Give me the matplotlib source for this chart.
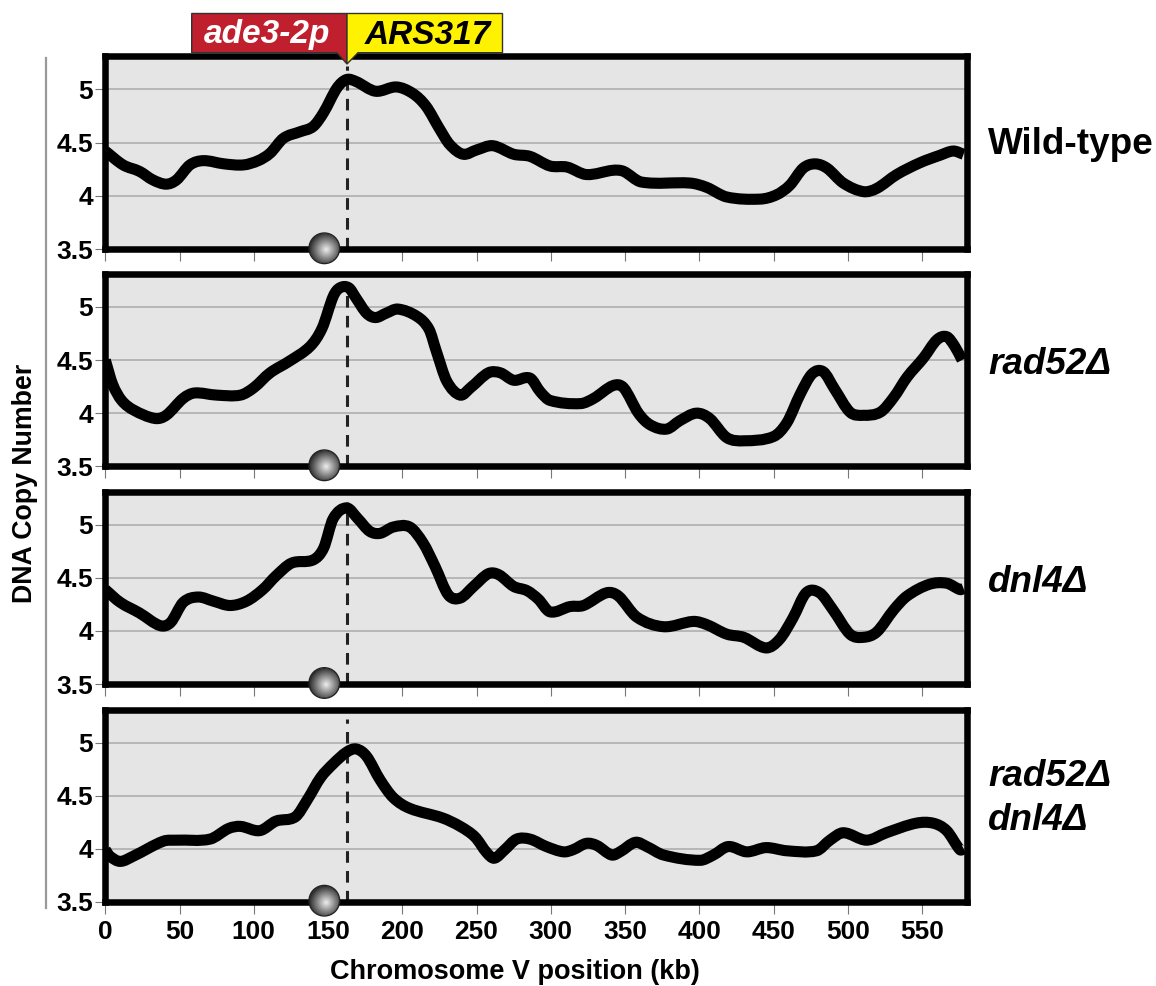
import numpy as np
import matplotlib
matplotlib.use('Agg')
import matplotlib.pyplot as plt
from matplotlib.patches import Polygon, Circle, PathPatch
from matplotlib.path import Path

plt.rcParams['font.family'] = ['Liberation Sans', 'DejaVu Sans']
plt.rcParams['font.weight'] = 'bold'

# values (kb, copy number)
wt_x = [0, 12, 23, 32, 41, 48, 57, 66, 80, 93, 103, 111, 120, 131, 140, 147, 156, 162.5, 169, 182, 196, 207, 216,
        225, 232, 241, 250, 261, 275, 286, 299.5, 311, 324, 342, 349, 361, 394, 405, 418.5, 441, 452, 461, 470,
        478, 486, 497, 510.5, 519.5, 533, 548.6, 562, 571, 578]
wt_y = [4.42, 4.29, 4.23, 4.15, 4.11, 4.15, 4.29, 4.33, 4.30, 4.29, 4.33, 4.40, 4.54, 4.60, 4.65, 4.78, 5.01, 5.09,
        5.07, 4.98, 5.02, 4.96, 4.84, 4.63, 4.48, 4.39, 4.43, 4.47, 4.39, 4.37, 4.28, 4.27, 4.20, 4.24, 4.23, 4.13,
        4.12, 4.08, 3.99, 3.97, 4.01, 4.10, 4.26, 4.30, 4.26, 4.12, 4.04, 4.07, 4.20, 4.31, 4.38, 4.42, 4.39]

rad52_x = [0, 5, 11, 19, 33.5, 41, 52.5, 60, 75, 91, 100, 111, 124, 138, 146, 153.5, 158, 164, 169, 176, 182, 189,
           197, 210, 218, 223, 230, 239, 246, 258, 266, 275, 286, 293, 299.5, 320, 329, 342, 349, 359, 367, 378,
           387, 398, 407, 418.5, 430, 450, 459, 468, 476, 483.5, 491, 501.5, 510.5, 522, 531, 540, 551, 560,
           566.6, 572, 577]
rad52_y = [4.50, 4.27, 4.12, 4.03, 3.95, 3.98, 4.14, 4.19, 4.17, 4.17, 4.24, 4.38, 4.49, 4.63, 4.80, 5.10, 5.18,
           5.18, 5.08, 4.94, 4.90, 4.94, 4.98, 4.91, 4.79, 4.58, 4.30, 4.17, 4.24, 4.38, 4.38, 4.31, 4.33, 4.20,
           4.12, 4.09, 4.14, 4.26, 4.24, 4.00, 3.89, 3.85, 3.93, 4.00, 3.95, 3.77, 3.74, 3.78, 3.91, 4.18, 4.37,
           4.39, 4.23, 4.01, 3.98, 4.01, 4.15, 4.34, 4.52, 4.69, 4.72, 4.63, 4.50]

dnl4_x = [0, 10, 23, 37, 44, 52.5, 62.5, 73, 84, 95, 106, 115, 125.5, 140, 147, 153.5, 162.5, 170, 178, 185, 194,
          205, 214, 222, 231, 239, 248, 258, 265, 275, 284, 291.6, 299.5, 313, 322, 337.6, 345.5, 358, 376, 396,
          405, 418.5, 430, 445, 454, 463, 472, 481, 490, 501.5, 510.5, 519.5, 531, 540, 555, 566.6, 575.6, 578]
dnl4_y = [4.39, 4.27, 4.17, 4.05, 4.08, 4.27, 4.32, 4.28, 4.24, 4.28, 4.39, 4.52, 4.64, 4.67, 4.78, 5.06, 5.16,
          5.06, 4.94, 4.92, 4.98, 4.98, 4.83, 4.61, 4.34, 4.31, 4.42, 4.54, 4.53, 4.42, 4.38, 4.30, 4.18, 4.23,
          4.24, 4.36, 4.33, 4.13, 4.04, 4.09, 4.06, 3.97, 3.94, 3.84, 3.92, 4.12, 4.36, 4.36, 4.20, 3.97, 3.94,
          3.99, 4.20, 4.33, 4.44, 4.45, 4.39, 4.40]

double_x = [0, 3, 10, 19, 39, 48, 70.5, 83, 91, 104, 115, 128, 136, 145, 153.5, 162.5, 169, 176, 185, 194, 205,
            227, 239, 249, 257, 262, 269, 277, 286, 297, 308.5, 315, 324, 331, 341, 346.6, 357, 364.6, 376, 400.5,
            409.5, 419.5, 432, 445, 459, 479, 488, 497, 512.7, 526, 546, 557.6, 566.6, 575.6, 578]
double_y = [3.99, 3.93, 3.88, 3.93, 4.07, 4.08, 4.09, 4.19, 4.21, 4.17, 4.26, 4.30, 4.46, 4.67, 4.80, 4.91, 4.94,
            4.87, 4.65, 4.48, 4.38, 4.29, 4.21, 4.11, 3.96, 3.91, 3.99, 4.09, 4.09, 4.02, 3.97, 3.99, 4.05, 4.03,
            3.94, 3.97, 4.06, 4.02, 3.94, 3.89, 3.94, 4.02, 3.97, 4.01, 3.98, 3.98, 4.08, 4.15, 4.08, 4.15, 4.24,
            4.24, 4.17, 3.99, 4.00]

all_x = [wt_x, rad52_x, dnl4_x, double_x]
all_y = [wt_y, rad52_y, dnl4_y, double_y]
x_ticks = [0, 50, 100, 150, 200, 250, 300, 350, 400, 450, 500, 550]
y_ticks = [3.5, 4, 4.5, 5]
y_tick_labels = ['3.5', '4', '4.5', '5']
ars_kb = 163
centromere_kb = 147.5

W, H = 1156, 986
LEFT, RIGHT = 105.3, 967
panel_top = [56, 274, 492, 709.7]
panel_bottom = [249.3, 466.3, 684, 901.7]


# curve that passes through the read points, the original line is smooth
def curve_path(x, y):
    verts = [(x[0], y[0])]
    codes = [Path.MOVETO]
    n = len(x)
    for i in range(n - 1):
        a = max(i - 1, 0)
        b = min(i + 2, n - 1)
        h = x[i + 1] - x[i]
        m0 = (y[i + 1] - y[a]) / (x[i + 1] - x[a])
        m1 = (y[b] - y[i]) / (x[b] - x[i])
        verts += [(x[i] + h / 3, y[i] + m0 * h / 3), (x[i + 1] - h / 3, y[i + 1] - m1 * h / 3), (x[i + 1], y[i + 1])]
        codes += [Path.CURVE4, Path.CURVE4, Path.CURVE4]
    return Path(verts, codes)


fig = plt.figure(figsize=(W / 100, H / 100), dpi=100)

axes = []
for i in range(4):
    ax = fig.add_axes([LEFT / W, 1 - panel_bottom[i] / H, (RIGHT - LEFT) / W, (panel_bottom[i] - panel_top[i]) / H])
    ax.set_facecolor('#e5e5e5')
    ax.set_xlim(0, 580.3)
    ax.set_ylim(3.5, 5.31)
    ax.set_yticks(y_ticks)
    ax.set_yticklabels(y_tick_labels, fontsize=19, fontweight='bold')
    ax.set_xticks(x_ticks)
    ax.grid(True, axis='y', color='#aaaaaa', linewidth=1.1)
    ax.set_axisbelow(True)
    ax.tick_params(axis='y', length=7, width=0.8, color='#777777', pad=2)
    ax.tick_params(axis='x', length=8.4, width=0.8, color='#777777', pad=5)
    if i == 3:
        ax.set_xticklabels([str(t) for t in x_ticks], fontsize=19, fontweight='bold')
    else:
        ax.set_xticklabels([])
    # dashed line at the origin, it goes under the curve
    ax.plot([ars_kb, ars_kb], [3.5, 5.22], color='#222222', linewidth=2.2, dashes=(3.8, 2.7), zorder=2)
    ax.add_patch(PathPatch(curve_path(all_x[i], all_y[i]), facecolor='none', edgecolor='black', linewidth=8,
                           joinstyle='round', capstyle='butt', zorder=3))
    for s in ax.spines.values():
        s.set_linewidth(4.7)
        s.set_color('black')
        s.set_zorder(5)
    axes.append(ax)

# overlay in pixel coordinates for the decorations
over = fig.add_axes([0, 0, 1, 1], zorder=10)
over.patch.set_visible(False)
over.axis('off')

# grey bar next to the y label
over.plot([46, 46], [58, 908], color='#999999', linewidth=1.6)

# flags on top
over.add_patch(Polygon([(191.7, 13.5), (347, 13.5), (347, 64), (337, 52.7), (191.7, 52.7)], closed=True,
                       facecolor='#c01f2e', edgecolor='#333333', linewidth=1.0))
over.add_patch(Polygon([(347, 13.5), (502.5, 13.5), (502.5, 52.7), (358, 52.7), (347, 64)], closed=True,
                       facecolor='#fff200', edgecolor='#333333', linewidth=1.0))
over.text(267.5, 35, 'ade3-2p', color='white', fontsize=24, fontweight='bold', style='italic', ha='center', va='center')
over.text(427.5, 35, 'ARS317', color='black', fontsize=24, fontweight='bold', style='italic', ha='center', va='center')

# shaded ball for the centromere
yy, xx = np.mgrid[-1:1:80j, -1:1:80j]
rr = np.sqrt((xx - 0.15) ** 2 + (yy - 0.1) ** 2)
for ax in axes:
    cx = ax.transData.transform((centromere_kb, 3.5))[0]
    cy = H - ax.transData.transform((centromere_kb, 3.5))[1] - 1
    im = over.imshow(rr, cmap='gray_r', vmin=-0.1, vmax=1.4, extent=(cx - 15, cx + 15, cy + 15, cy - 15),
                     interpolation='bilinear', aspect='auto', zorder=3)
    c = Circle((cx, cy), 15, transform=over.transData, facecolor='none')
    over.add_patch(c)
    im.set_clip_path(c)
    over.add_patch(Circle((cx, cy), 15.3, facecolor='none', edgecolor='#222222', linewidth=1.0, zorder=4))
over.set_xlim(0, W)
over.set_ylim(H, 0)

# labels on the right
lab = dict(fontsize=26.6, fontweight='bold', ha='left', va='center')
over.text(988, 144, 'Wild-type', **lab)
over.text(988, 364, 'rad52Δ', style='italic', **lab)
over.text(988, 582, 'dnl4Δ', style='italic', **lab)
over.text(988, 776, 'rad52Δ', style='italic', **lab)
over.text(988, 821, 'dnl4Δ', style='italic', **lab)

over.text(515, 972, 'Chromosome V position (kb)', fontsize=19.5, fontweight='bold', ha='center', va='center')
over.text(25, 483, 'DNA Copy Number', fontsize=19.3, fontweight='bold', rotation=90, ha='center', va='center')

fig.savefig('out.png', dpi=100)
